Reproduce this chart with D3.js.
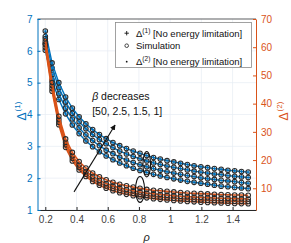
<!DOCTYPE html>
<html lang="en">
<head>
    <title>Delta vs rho</title>
    <script src="https://d3js.org/d3.v7.min.js"></script>
    <style>
        body { margin: 0; background: #fff; }
        text { font-family: "Liberation Sans", Arial, sans-serif; }
    </style>
</head>
<body>
<svg id="g1"></svg>
<script>
    // rho grid (31 points, 0.2 .. 1.5)
    const rho = [0.2, 0.2433, 0.2867, 0.33, 0.3733, 0.4167, 0.46, 0.5033, 0.5467, 0.59,
        0.6333, 0.6767, 0.72, 0.7633, 0.8067, 0.85, 0.8933, 0.9367, 0.98, 1.0233,
        1.0667, 1.11, 1.1533, 1.1967, 1.24, 1.2833, 1.3267, 1.37, 1.4133, 1.4567, 1.5];

    // Delta(1), left axis
    const delta1Beta1 = [6.62, 5.62, 5.0, 4.55, 4.2, 3.93, 3.71, 3.53, 3.37, 3.24, 3.12, 3.02, 2.93, 2.85, 2.78,
        2.71, 2.65, 2.6, 2.55, 2.51, 2.47, 2.43, 2.39, 2.36, 2.33, 2.3, 2.28, 2.25, 2.23, 2.21, 2.19];
    const delta1Beta1_5 = [6.45, 5.46, 4.84, 4.39, 4.04, 3.77, 3.55, 3.37, 3.21, 3.08, 2.96, 2.85, 2.76, 2.68, 2.61,
        2.54, 2.48, 2.43, 2.38, 2.34, 2.3, 2.26, 2.22, 2.19, 2.16, 2.13, 2.11, 2.08, 2.06, 2.04, 2.02];
    const delta1Beta2_5 = [6.22, 5.26, 4.65, 4.2, 3.86, 3.58, 3.36, 3.18, 3.02, 2.88, 2.77, 2.66, 2.57, 2.49, 2.42,
        2.36, 2.3, 2.25, 2.2, 2.16, 2.12, 2.08, 2.05, 2.01, 1.98, 1.96, 1.93, 1.91, 1.89, 1.86, 1.84];
    const delta1Beta50 = [6.02, 5.08, 4.47, 4.02, 3.67, 3.4, 3.17, 2.99, 2.83, 2.7, 2.58, 2.48, 2.39, 2.31, 2.24,
        2.18, 2.12, 2.07, 2.02, 1.98, 1.94, 1.9, 1.87, 1.84, 1.81, 1.78, 1.75, 1.73, 1.71, 1.69, 1.67];

    // Delta(2), right axis
    const delta2Beta1 = [63.0, 47.5, 35.5, 27.5, 22.7, 19.5, 17.2, 15.4, 14.1, 13.0, 12.1, 11.4, 10.9, 10.4, 10.0,
        9.6, 9.3, 9.1, 8.9, 8.7, 8.5, 8.3, 8.2, 8.1, 8.0, 7.9, 7.8, 7.7, 7.6, 7.6, 7.5];
    const delta2Beta1_5 = [62.0, 46.4, 34.4, 26.3, 21.5, 18.3, 15.9, 14.2, 12.8, 11.7, 10.85, 10.15, 9.58, 9.1, 8.7,
        8.33, 8.04, 7.79, 7.56, 7.37, 7.2, 7.04, 6.91, 6.78, 6.68, 6.58, 6.49, 6.41, 6.34, 6.27, 6.21];
    const delta2Beta2_5 = [61.0, 45.4, 33.4, 25.4, 20.6, 17.4, 15.0, 13.3, 11.9, 10.8, 9.95, 9.25, 8.68, 8.2, 7.8,
        7.43, 7.14, 6.89, 6.66, 6.47, 6.3, 6.14, 6.01, 5.88, 5.78, 5.68, 5.59, 5.51, 5.44, 5.37, 5.31];
    const delta2Beta50 = [60.0, 44.4, 32.5, 24.5, 19.7, 16.5, 14.2, 12.4, 11.1, 10.0, 9.13, 8.43, 7.86, 7.39, 6.98,
        6.62, 6.33, 6.08, 5.85, 5.66, 5.49, 5.34, 5.2, 5.08, 4.97, 4.87, 4.78, 4.7, 4.63, 4.56, 4.5];

    const xTicks = [0.2, 0.4, 0.6, 0.8, 1, 1.2, 1.4];
    const leftTicks = [1, 2, 3, 4, 5, 6, 7];
    const rightTicks = [10, 20, 30, 40, 50, 60, 70];
    const legendSup = ["(1)", "", "(2)"];
    const legendText = [" [No energy limitation]", "Simulation", " [No energy limitation]"];

    const blue = "#0072BD", orange = "#D95319", dark = "#262626";

    let margin = {top: 19, right: 35, bottom: 33, left: 37.5},
        width = 291,
        height = 243;

    let svg = d3.select("#g1")
        .attr("width", width)
        .attr("height", height);

    let x = d3.scaleLinear().domain([0.15, 1.55]).range([margin.left, width - margin.right]);
    let yL = d3.scaleLinear().domain([1, 7]).range([height - margin.bottom, margin.top]);
    let yR = d3.scaleLinear().domain([2.3, 70]).range([height - margin.bottom, margin.top]);

    // grid
    let grid = svg.append("g").attr("stroke", "#e6edf4").attr("stroke-width", 0.7);
    grid.selectAll(".gx").data(xTicks).join("line").attr("class", "gx")
        .attr("x1", d => x(d)).attr("x2", d => x(d))
        .attr("y1", yL(1)).attr("y2", yL(7));
    grid.selectAll(".gy").data(leftTicks).join("line").attr("class", "gy")
        .attr("x1", x.range()[0]).attr("x2", x.range()[1])
        .attr("y1", d => yL(d)).attr("y2", d => yL(d));

    // lines
    const seriesL = [delta1Beta50, delta1Beta2_5, delta1Beta1_5, delta1Beta1];
    const seriesR = [delta2Beta50, delta2Beta2_5, delta2Beta1_5, delta2Beta1];

    let lineL = d3.line().x((d, i) => x(rho[i])).y(d => yL(d));
    let lineR = d3.line().x((d, i) => x(rho[i])).y(d => yR(d));

    let plot = svg.append("g");

    seriesL.forEach(s => {
        plot.append("path").attr("d", lineL(s))
            .attr("fill", "none").attr("stroke", blue).attr("stroke-width", 1.4);
        plot.append("g").selectAll("path").data(s).join("path")
            .attr("transform", (d, i) => `translate(${x(rho[i])},${yL(d)})`)
            .attr("d", "M-1.8,0H1.8M0,-1.8V1.8")
            .attr("stroke", blue).attr("stroke-width", 1);
        plot.append("g").selectAll("circle").data(s).join("circle")
            .attr("cx", (d, i) => x(rho[i])).attr("cy", d => yL(d))
            .attr("r", 2.3).attr("fill", "none")
            .attr("stroke", "#2b2b2b").attr("stroke-width", 1.05);
    });

    seriesR.forEach(s => {
        plot.append("path").attr("d", lineR(s))
            .attr("fill", "none").attr("stroke", orange).attr("stroke-width", 1.6);
        plot.append("g").selectAll("circle").data(s).join("circle")
            .attr("cx", (d, i) => x(rho[i])).attr("cy", d => yR(d))
            .attr("r", 2.3).attr("fill", "none")
            .attr("stroke", "#2b2b2b").attr("stroke-width", 1.05);
    });

    // axes
    let xAxis = svg.append("g")
        .attr("transform", `translate(0,${yL(1)})`)
        .call(d3.axisBottom(x).tickValues(xTicks).tickSize(-3).tickSizeOuter(0).tickPadding(6).tickFormat(d => d));
    xAxis.select(".domain").attr("stroke", dark);
    xAxis.selectAll(".tick line").attr("stroke", dark);
    xAxis.selectAll("text").attr("fill", "#444").attr("font-size", 10);

    // top box edge
    svg.append("line")
        .attr("x1", x.range()[0]).attr("x2", x.range()[1])
        .attr("y1", yL(7)).attr("y2", yL(7))
        .attr("stroke", dark).attr("stroke-width", 0.7);

    let leftAxis = svg.append("g")
        .attr("transform", `translate(${x.range()[0]},0)`)
        .call(d3.axisLeft(yL).tickValues(leftTicks).tickSize(-3).tickSizeOuter(0).tickPadding(5).tickFormat(d => d));
    leftAxis.selectAll(".domain, .tick line").attr("stroke", blue);
    leftAxis.selectAll("text").attr("fill", blue).attr("font-size", 10);

    let rightAxis = svg.append("g")
        .attr("transform", `translate(${x.range()[1]},0)`)
        .call(d3.axisRight(yR).tickValues(rightTicks).tickSize(-3).tickSizeOuter(0).tickPadding(5).tickFormat(d => d));
    rightAxis.selectAll(".domain, .tick line").attr("stroke", orange);
    rightAxis.selectAll("text").attr("fill", orange).attr("font-size", 10);

    // axis labels
    svg.append("text")
        .attr("x", (x.range()[0] + x.range()[1]) / 2).attr("y", 241)
        .attr("text-anchor", "middle").attr("font-size", 11).attr("font-style", "italic")
        .attr("fill", dark).text("ρ");

    function deltaLabel(tx, ty, sup, color) {
        let t = svg.append("text")
            .attr("transform", `translate(${tx},${ty}) rotate(-90)`)
            .attr("text-anchor", "middle").attr("font-size", 12).attr("fill", color);
        t.append("tspan").text("Δ");
        t.append("tspan").attr("font-size", 8).attr("dy", -5.5).attr("dx", 1).text(sup);
    }
    deltaLabel(25.5, 111, "(1)", blue);
    deltaLabel(287.5, 111, "(2)", orange);

    // legend
    let legend = svg.append("g");
    legend.append("rect")
        .attr("x", 115.5).attr("y", 22.5).attr("width", 136).attr("height", 45)
        .attr("fill", "#fff").attr("stroke", "#8a8a8a").attr("stroke-width", 0.8);
    const rowY = [36.5, 49, 65];
    legend.append("path")
        .attr("d", `M${124.5},${rowY[0] - 3.3}h4.4M${126.7},${rowY[0] - 5.5}v4.4`)
        .attr("stroke", "#111").attr("stroke-width", 0.9);
    legend.append("circle").attr("cx", 126.7).attr("cy", rowY[1] - 3.3).attr("r", 1.8)
        .attr("fill", "none").attr("stroke", "#333").attr("stroke-width", 0.9);
    legend.append("circle").attr("cx", 126.7).attr("cy", rowY[2] - 3.3).attr("r", 0.9).attr("fill", "#111");
    legendText.forEach((s, i) => {
        let t = legend.append("text").attr("x", 136).attr("y", rowY[i])
            .attr("font-size", 9.5).attr("fill", "#111");
        if (legendSup[i]) {
            t.append("tspan").text("Δ");
            t.append("tspan").attr("font-size", 6.5).attr("dy", -4).text(legendSup[i]);
            t.append("tspan").attr("dy", 4).text(s);
        } else {
            t.text(s);
        }
    });

    // annotation
    let note = svg.append("g");
    let t1 = note.append("text").attr("x", x(0.5)).attr("y", yL(4.45))
        .attr("font-size", 10.5).attr("fill", "#111");
    t1.append("tspan").attr("font-style", "italic").text("β");
    t1.append("tspan").text(" decreases");
    note.append("text").attr("x", x(0.5)).attr("y", yL(3.98))
        .attr("font-size", 10.5).attr("fill", "#111").text("[50, 2.5, 1.5, 1]");

    svg.append("defs").append("marker")
        .attr("id", "ah").attr("viewBox", "0 0 10 10").attr("refX", 9).attr("refY", 5)
        .attr("markerWidth", 5).attr("markerHeight", 5).attr("orient", "auto")
        .append("path").attr("d", "M0,0L10,5L0,10z").attr("fill", "#111");
    note.append("line")
        .attr("x1", x(0.384)).attr("y1", yL(1.57))
        .attr("x2", x(0.647)).attr("y2", yL(3.67))
        .attr("stroke", "#111").attr("stroke-width", 1.1).attr("marker-end", "url(#ah)");

    // ellipses around groups
    note.append("ellipse")
        .attr("cx", x(0.85)).attr("cy", yL(2.44))
        .attr("rx", 3.8).attr("ry", yL(2.44) - yL(2.84))
        .attr("fill", "none").attr("stroke", "#111").attr("stroke-width", 1.1);
    note.append("ellipse")
        .attr("cx", x(0.807)).attr("cy", yR(9.6))
        .attr("rx", 4.5).attr("ry", yR(9.6) - yR(14.2))
        .attr("fill", "none").attr("stroke", "#111").attr("stroke-width", 1.1);
</script>
</body>
</html>
